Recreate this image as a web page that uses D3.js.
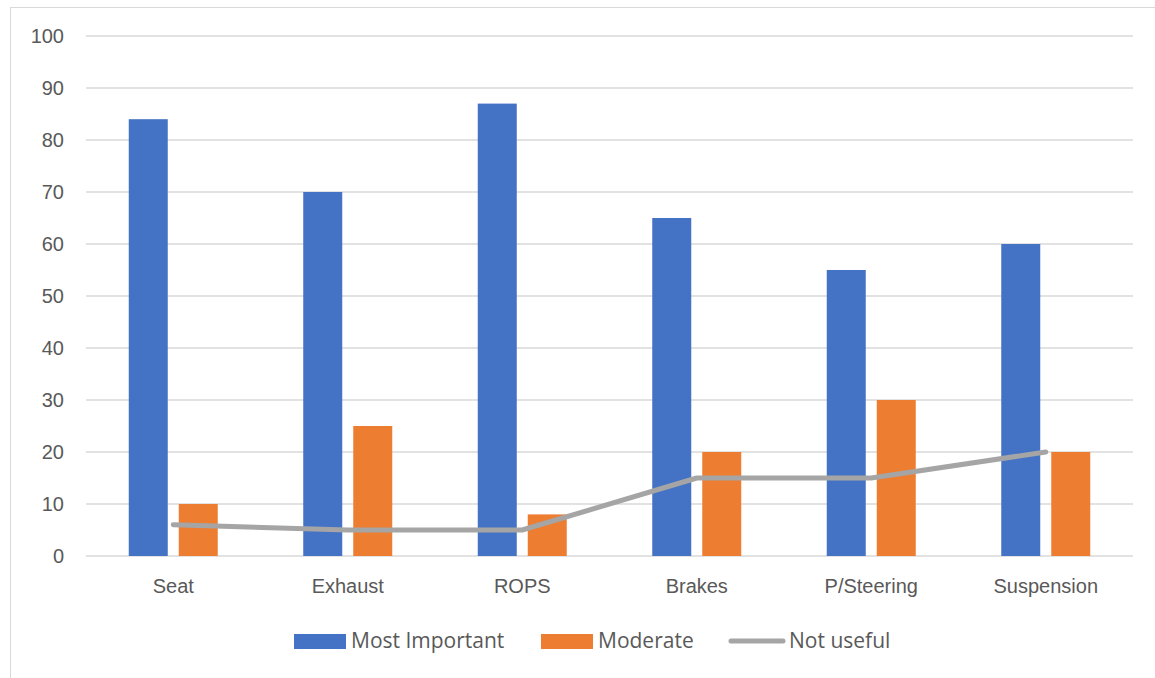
<!DOCTYPE html>
<html>
<head>
<meta charset="utf-8">
<script src="https://cdn.jsdelivr.net/npm/d3@7"></script>
<style>
  body { margin: 0; background: #fff; }
  svg { display: block; font-family: "Open Sans", "Liberation Sans", sans-serif; }
</style>
</head>
<body>
<div id="chart"></div>
<script>
const categories = ["Seat", "Exhaust", "ROPS", "Brakes", "P/Steering", "Suspension"];
const mostImportant = [84, 70, 87, 65, 55, 60];
const moderate = [10, 25, 8, 20, 30, 20];
const notUseful = [6, 5, 5, 15, 15, 20];
const yTicks = [0, 10, 20, 30, 40, 50, 60, 70, 80, 90, 100];

const width = 1155, height = 678;
const margin = { left: 86, right: 22, top: 36, bottom: 122 };

const svg = d3.select("#chart").append("svg")
    .attr("width", width).attr("height", height);

// outer chart border
svg.append("rect")
    .attr("x", 10.5).attr("y", 7.5)
    .attr("width", width + 10).attr("height", height + 10)
    .attr("fill", "none").attr("stroke", "#d9d9d9").attr("stroke-width", 1);

const x = d3.scaleBand().domain(categories)
    .range([margin.left, width - margin.right]);
const y = d3.scaleLinear().domain([0, 100])
    .range([height - margin.bottom, margin.top]);

// gridlines
svg.append("g").selectAll("line").data(yTicks).join("line")
    .attr("x1", margin.left).attr("x2", width - margin.right)
    .attr("y1", d => y(d)).attr("y2", d => y(d))
    .attr("stroke", "#d9d9d9").attr("stroke-width", 1.3);

// y axis labels
const yAxis = svg.append("g")
    .attr("transform", `translate(${margin.left - 22},0)`)
    .call(d3.axisLeft(y).tickValues(yTicks).tickSize(0).tickPadding(0));
yAxis.select(".domain").remove();
yAxis.selectAll("text")
    .attr("fill", "#595959").style("font-size", "20px");

// x axis labels
const xAxis = svg.append("g")
    .attr("transform", `translate(0,${y(0)})`)
    .call(d3.axisBottom(x).tickSize(0).tickPadding(23));
xAxis.select(".domain").remove();
xAxis.selectAll("text")
    .attr("fill", "#595959").style("font-size", "20px");

const barW = 39, gap = 11;
const cx = d => x(d) + x.bandwidth() / 2;

svg.append("g").selectAll("rect").data(categories).join("rect")
    .attr("x", d => cx(d) - gap / 2 - barW)
    .attr("y", (d, i) => y(mostImportant[i]))
    .attr("width", barW)
    .attr("height", (d, i) => y(0) - y(mostImportant[i]))
    .attr("fill", "#4472c4");

svg.append("g").selectAll("rect").data(categories).join("rect")
    .attr("x", d => cx(d) + gap / 2)
    .attr("y", (d, i) => y(moderate[i]))
    .attr("width", barW)
    .attr("height", (d, i) => y(0) - y(moderate[i]))
    .attr("fill", "#ed7d31");

const line = d3.line()
    .x((d, i) => cx(categories[i]))
    .y(d => y(d));

svg.append("path")
    .datum(notUseful)
    .attr("d", line)
    .attr("fill", "none")
    .attr("stroke", "#a5a5a5")
    .attr("stroke-width", 5)
    .attr("stroke-linecap", "round")
    .attr("stroke-linejoin", "round");

// legend
const legend = svg.append("g");
const legendItems = [
    { name: "Most Important", type: "rect", color: "#4472c4", x: 294 },
    { name: "Moderate", type: "rect", color: "#ed7d31", x: 541 },
    { name: "Not useful", type: "line", color: "#a5a5a5", x: 728 }
];
legendItems.forEach(it => {
    if (it.type === "rect") {
        legend.append("rect")
            .attr("x", it.x).attr("y", 634)
            .attr("width", 52).attr("height", 15)
            .attr("fill", it.color);
    } else {
        legend.append("line")
            .attr("x1", it.x + 3).attr("x2", it.x + 55)
            .attr("y1", 641).attr("y2", 641)
            .attr("stroke", it.color).attr("stroke-width", 5)
            .attr("stroke-linecap", "round");
    }
    legend.append("text")
        .attr("x", it.x + (it.type === "rect" ? 57 : 61)).attr("y", 641)
        .attr("dy", "0.35em")
        .attr("fill", "#595959")
        .style("font-size", "21px")
        .text(it.name);
});
</script>
</body>
</html>
